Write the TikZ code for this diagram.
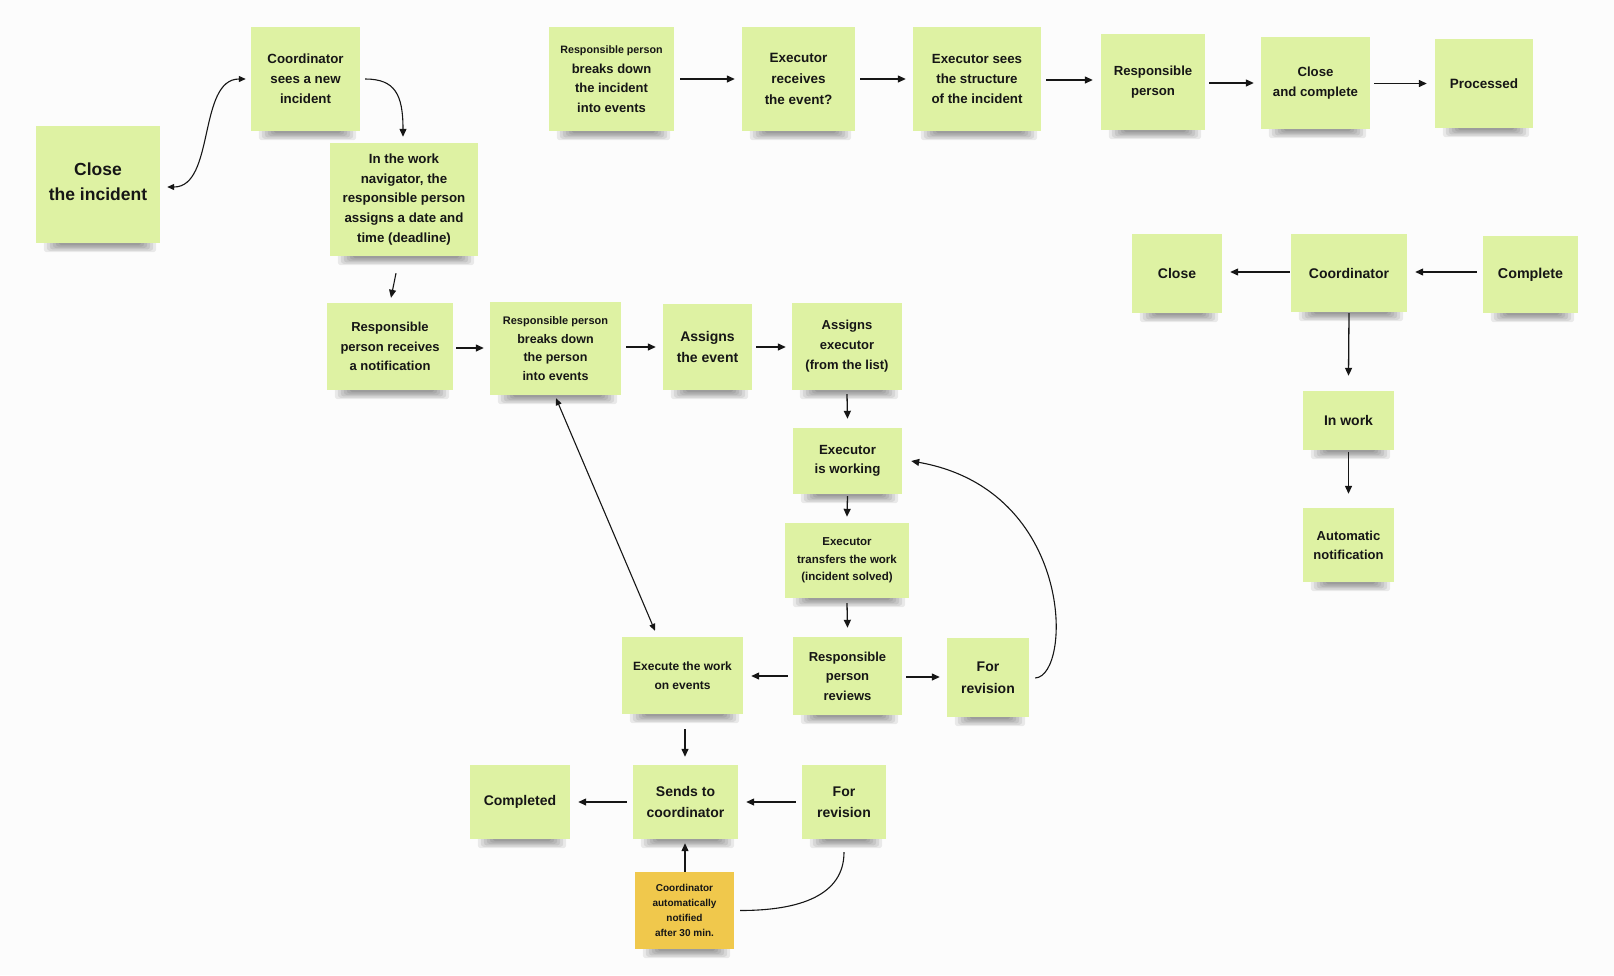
\documentclass[tikz,border=0pt]{standalone}
\usepackage{fontspec}
\setmainfont{Liberation Sans}
\usetikzlibrary{arrows.meta,calc,backgrounds}
\definecolor{note}{RGB}{222,242,163}
\definecolor{notey}{RGB}{240,200,76}
\definecolor{ink}{RGB}{22,22,22}
\definecolor{paper}{RGB}{252,252,252}
\tikzset{
  fs/.style 2 args={font=\fontsize{#1}{#2}\selectfont\bfseries},
  sticky/.style={fill=note, inner sep=0pt, align=center, text=ink, fs={13.3}{20}},
  yellowsticky/.style={sticky, fill=notey},
  sz/.style 2 args={minimum width=#1pt, minimum height=#2pt},
  arr/.style={draw=ink, line width=1.3pt, -{Triangle[length=8pt,width=7pt]}},
  darr/.style={draw=ink, line width=1.1pt, {Triangle[length=7pt,width=6pt]}-{Triangle[length=7pt,width=6pt]}},
  plainline/.style={draw=ink, line width=1.1pt},
}
\begin{document}
\begin{tikzpicture}[x=1pt,y=-1pt]
\useasboundingbox (0,0) rectangle (1614,975);

% ---------- notes ----------
\node[sticky, fs={17.5}{25}, sz={124}{117}, text height=32.8pt] (ci) at (98,184.5) {Close\\the incident};
\node[sticky, sz={109}{104}] (csn) at (305.5,79) {Coordinator\\sees a new\\incident};
\node[sticky, fs={13.3}{19.6}, sz={148}{113}] (wn) at (404,199.5) {In the work\\navigator, the\\responsible person\\assigns a date and\\time (deadline)};

\node[sticky, fs={13}{19.5}, sz={125}{104}] (rbi) at (611.5,79) {{\fontsize{10.7}{15}\selectfont Responsible person}\\breaks down\\the incident\\into events};
\node[sticky, fs={13.5}{20.7}, sz={113}{104}] (erv) at (798.5,79) {Executor\\receives\\the event?};
\node[sticky, sz={128}{104}] (ess) at (977,79) {Executor sees\\the structure\\of the incident};
\node[sticky, fs={13.2}{20.5}, sz={104}{96}] (rp) at (1153,82) {Responsible\\person};
\node[sticky, fs={13.2}{20.5}, sz={109}{92}] (cc) at (1315.5,83) {Close\\and complete};
\node[sticky, fs={13.5}{20}, sz={98}{89}] (proc) at (1484,83.5) {Processed};

\node[sticky, fs={14}{20}, sz={90}{79}] (cl) at (1177,273.5) {Close};
\node[sticky, fs={14}{20}, sz={116}{78}] (co) at (1349,273) {Coordinator};
\node[sticky, fs={14.3}{20}, sz={95}{77}] (cp) at (1530.5,274.5) {Complete};
\node[sticky, fs={14}{20}, sz={91}{59}] (iw) at (1348.5,420.5) {In work};
\node[sticky, fs={13}{19}, sz={91}{74}] (an) at (1348.5,545) {Automatic\\notification};

\node[sticky, fs={13}{19.6}, sz={126}{87}] (rrn) at (390,346.5) {Responsible\\person receives\\a notification};
\node[sticky, fs={12.5}{18.5}, sz={131}{93}] (rbp) at (555.5,348.5) {{\fontsize{11}{15}\selectfont Responsible person}\\breaks down\\the person\\into events};
\node[sticky, fs={14}{21.5}, sz={89}{86}] (ae) at (707.5,347) {Assigns\\the event};
\node[sticky, fs={13}{20}, sz={110}{87}] (aex) at (847,346.5) {Assigns\\executor\\(from the list)};
\node[sticky, fs={13.3}{19.6}, sz={109}{66}] (ew) at (847.5,461) {Executor\\is working};
\node[sticky, fs={11.5}{17.5}, sz={124}{75}] (etw) at (847,560.5) {Executor\\transfers the work\\(incident solved)};
\node[sticky, fs={13}{19.6}, sz={109}{78}] (rpr) at (847.5,676) {Responsible\\person\\reviews};
\node[sticky, fs={14}{21.5}, sz={82}{79}] (frm) at (988,677.5) {For\\revision};
\node[sticky, fs={12}{18.5}, sz={121}{77}] (ewe) at (682.5,675.5) {Execute the work\\on events};
\node[sticky, fs={14}{20.6}, sz={105}{74}] (stc) at (685.5,802) {Sends to\\coordinator};
\node[sticky, fs={14}{20}, sz={100}{74}] (cmp) at (520,802) {Completed};
\node[sticky, fs={14}{20.6}, sz={84}{74}] (frb) at (844,802) {For\\revision};
\node[yellowsticky, fs={10}{15}, sz={99}{77}] (yel) at (684.5,910.5) {Coordinator\\automatically\\notified\\after 30 min.};

% ---------- background and shadows ----------
\begin{scope}[on background layer]
  \fill[paper] (0,0) rectangle (1614,975);
  \foreach \n in {ci,csn,wn,rbi,erv,ess,rp,cc,proc,cl,co,cp,iw,an,rrn,rbp,ae,aex,ew,etw,rpr,frm,ewe,stc,cmp,frb,yel}{
    \foreach \i in {0,...,5}{
      \fill[black, opacity=0.075, rounded corners=3pt]
        ($(\n.south west)+(8+3*\i,-5)$) rectangle ($(\n.south east)+(-4-3*\i,9-1.4*\i)$);
    }
  }
\end{scope}

% ---------- connectors ----------
\draw[darr] ($(ci.east)+(7,2.5)$) .. controls ($(ci.east)+(55,2.5)$) and ($(csn.west)+(-53,0)$) .. ($(csn.west)+(-5,0)$);
\draw[arr, line width=1.1pt] ($(csn.east)+(5,0)$) .. controls ($(csn.east)+(35,0)$) and ($(wn.north)+(-1,-48)$) .. ($(wn.north)+(-1,-6)$);
\draw[arr, line width=1.1pt] ($(wn.south)+(-8,17)$) -- ($(rrn.north)+(1,-5)$);

% top row
\draw[arr] ($(rbi.east)+(6,0)$) -- ($(rbi.east -| erv.west)+(-7,0)$);
\draw[arr] ($(erv.east)+(5,0)$) -- ($(erv.east -| ess.west)+(-7,0)$);
\draw[arr] ($(ess.east)+(5,1)$) -- ($(ess.east -| rp.west)+(-8,1)$);
\draw[arr] ($(rp.east)+(4,1)$) -- ($(rp.east -| cc.west)+(-7,1)$);
\draw[arr] ($(cc.east)+(4,0.5)$) -- ($(cc.east -| proc.west)+(-8,0.5)$);

% right cluster
\draw[arr] ($(co.west)+(-1,-1)$) -- ($(co.west -| cl.east)+(8,-1)$);
\draw[arr] ($(cp.west)+(-6,-2.5)$) -- ($(cp.west -| co.east)+(8,-2.5)$);
\draw[arr] ($(co.south)+(0,1)$) -- ($(iw.north)+(0,-15)$);
\draw[arr] ($(iw.south)+(0,2)$) -- ($(an.north)+(0,-14)$);

% middle row
\draw[arr] ($(rrn.east)+(3,1.5)$) -- ($(rrn.east -| rbp.west)+(-6,1.5)$);
\draw[arr] ($(rbp.east)+(5,-1.5)$) -- ($(rbp.east -| ae.west)+(-7,-1.5)$);
\draw[arr] ($(ae.east)+(4,0)$) -- ($(ae.east -| aex.west)+(-6,0)$);
\draw[arr] ($(aex.south)+(0,4)$) -- ($(ew.north)+(0,-9)$);
\draw[arr] ($(ew.south)+(0,2)$) -- ($(etw.north)+(0,-6)$);
\draw[arr] ($(etw.south)+(0,5)$) -- ($(rpr.north)+(0,-9)$);
\draw[arr] ($(rpr.west)+(-5,0)$) -- ($(rpr.west -| ewe.east)+(8,0)$);
\draw[arr] ($(rpr.east)+(4,1)$) -- ($(rpr.east -| frm.west)+(-7,1)$);
\draw[arr, line width=1.1pt] ($(frm.east)+(6,0.5)$) .. controls ($(frm.east)+(43,-1.5)$) and ($(ew.east)+(173,29)$) .. ($(ew.east)+(9,0)$);
\draw[darr] ($(rbp.south)+(0.5,3)$) -- ($(ewe.north)+(-27.5,-6)$);

% bottom
\draw[arr] ($(ewe.south)+(2.5,15)$) -- ($(stc.north)+(-0.5,-8)$);
\draw[arr] ($(stc.west)+(-6,0)$) -- ($(stc.west -| cmp.east)+(8,0)$);
\draw[arr] ($(frb.west)+(-6,0)$) -- ($(frb.west -| stc.east)+(8,0)$);
\draw[arr] ($(yel.north)+(0.5,0)$) -- ($(stc.south)+(-0.5,4)$);
\draw[plainline] ($(frb.south)+(0,13)$) .. controls ($(frb.south)+(0,56)$) and ($(yel.east)+(66,0)$) .. ($(yel.east)+(6,0)$);
\end{tikzpicture}
\end{document}
